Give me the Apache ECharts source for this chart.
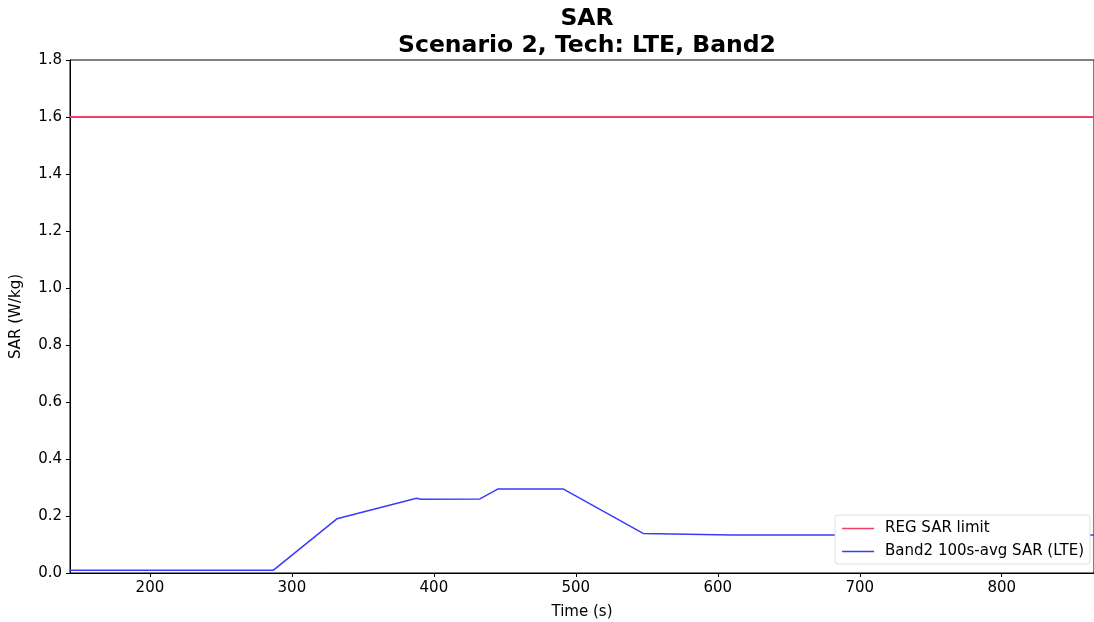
<!DOCTYPE html>
<html>
<head>
<meta charset="utf-8">
<script src="https://cdn.jsdelivr.net/npm/echarts@6/dist/echarts.min.js"></script>
<style>html,body{margin:0;padding:0;background:#fff}#c{width:1094px;height:622px}</style>
</head>
<body>
<div id="c"></div>
<script>
const titleLines = ['SAR', 'Scenario 2, Tech: LTE, Band2'];
const xTicks = [200, 300, 400, 500, 600, 700, 800];
const yTicks = [0, 0.2, 0.4, 0.6, 0.8, 1.0, 1.2, 1.4, 1.6, 1.8];
const limitName = 'REG SAR limit';
const limitValue = 1.6;
const seriesName = 'Band2 100s-avg SAR (LTE)';
const timeS = [143.7, 287, 331.7, 387.8, 391, 432.4, 445.3, 491, 547.4, 610, 680, 865];
const sarValues = [0.01, 0.01, 0.19, 0.262, 0.259, 0.26, 0.295, 0.295, 0.139, 0.133, 0.133, 0.133];
const xMin = 143.7, xMax = 865;

const font = 'DejaVu Sans';
const red = '#f0406a', blue = '#3a3aff';
const chart = echarts.init(document.getElementById('c'), null, {renderer: 'canvas'});
chart.setOption({
  animation: false,
  backgroundColor: '#fff',
  title: {
    text: titleLines.join('\n'),
    left: 582, top: 0, textAlign: 'center',
    textStyle: {fontFamily: font, fontWeight: 'bold', fontSize: 23.5, lineHeight: 27, color: '#000'}
  },
  grid: {left: 70, top: 60, right: 0, bottom: 49, outerBoundsMode: 'none', containLabel: false,
    show: true, borderColor: '#000', borderWidth: 1, backgroundColor: 'transparent'},
  legend: {
    right: 4, top: 515, orient: 'vertical', itemGap: 8,
    backgroundColor: '#fff', borderColor: '#e0e0e0', borderWidth: 1, borderRadius: 3,
    padding: [6, 6, 5, 7],
    itemWidth: 32, itemHeight: 1.5,
    textStyle: {fontFamily: font, fontSize: 15, color: '#000', padding: [0, 0, 0, 6]},
    data: [
      {name: limitName, icon: 'rect', itemStyle: {color: red, borderWidth: 0}},
      {name: seriesName, icon: 'rect', itemStyle: {color: blue, borderWidth: 0}}
    ]
  },
  xAxis: {
    type: 'value', min: xMin, max: xMax,
    name: 'Time (s)', nameLocation: 'middle', nameGap: 32,
    nameTextStyle: {fontFamily: font, fontSize: 15, color: '#000'},
    axisLine: {show: true, onZero: false, lineStyle: {color: '#000', width: 1}},
    axisTick: {show: true, length: 4, customValues: xTicks, lineStyle: {color: '#000'}},
    axisLabel: {fontFamily: font, fontSize: 15, color: '#000', margin: 8, customValues: xTicks},
    splitLine: {show: false}
  },
  yAxis: {
    type: 'value', min: 0, max: 1.8, interval: 0.2,
    name: 'SAR (W/kg)', nameLocation: 'middle', nameGap: 46,
    nameTextStyle: {fontFamily: font, fontSize: 15, color: '#000'},
    axisLine: {show: true, lineStyle: {color: '#000', width: 1}},
    axisTick: {show: true, length: 4, lineStyle: {color: '#000'}},
    axisLabel: {fontFamily: font, fontSize: 15, color: '#000', margin: 8, formatter: v => v.toFixed(1)},
    splitLine: {show: false}
  },
  series: [
    {
      name: limitName, type: 'line', symbol: 'none', color: red,
      itemStyle: {color: red},
      lineStyle: {width: 2, color: red},
      data: [[xMin, limitValue], [xMax, limitValue]]
    },
    {
      name: seriesName, type: 'line', symbol: 'none', color: blue,
      itemStyle: {color: blue},
      lineStyle: {width: 1.5, color: blue},
      data: timeS.map((t, i) => [t, sarValues[i]])
    }
  ]
});
</script>
</body>
</html>
